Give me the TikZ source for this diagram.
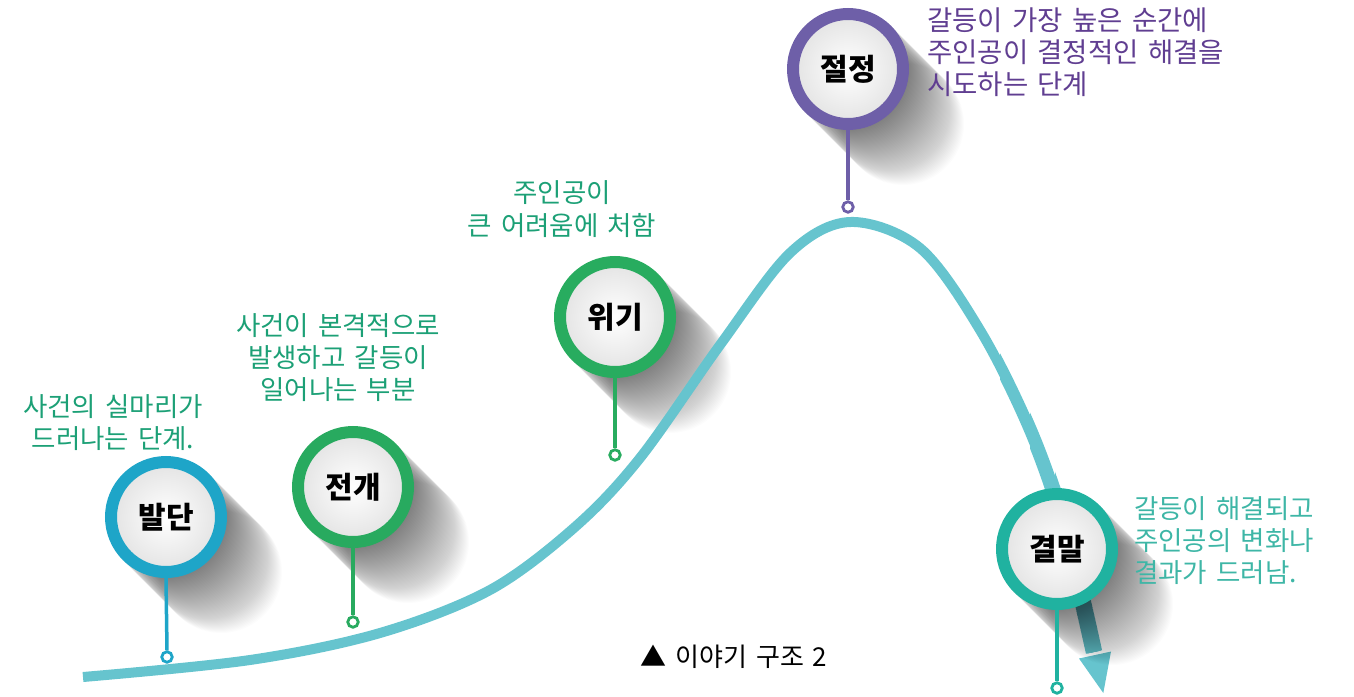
\documentclass[tikz,border=0pt]{standalone}
\usepackage{fontspec}
\newfontfamily\kr{Noto Sans CJK KR}[WordSpace=1.5]
\usetikzlibrary{calc}
\definecolor{curvec}{RGB}{102,196,206}
\definecolor{cbal}{RGB}{30,165,200}
\definecolor{cjeon}{RGB}{40,170,95}
\definecolor{cwi}{RGB}{40,172,95}
\definecolor{cjeol}{RGB}{110,95,168}
\definecolor{cgyeol}{RGB}{32,178,160}
\definecolor{tgreen}{RGB}{28,160,118}
\definecolor{tpurple}{RGB}{96,62,145}
\definecolor{tteal}{RGB}{62,182,166}
\tikzset{
  curve/.style={line width=#1, draw=curvec},
  stage/.style={circle, draw=#1, line width=12pt, minimum size=110pt, inner sep=0pt,
    inner color=white, outer color=gray!22, text=black,
    font=\kr\bfseries\fontsize{30}{32}\selectfont},
  pin/.style={circle, draw=#1, fill=white, line width=2.8pt, minimum size=10.5pt, inner sep=0pt},
  stem/.style={draw=#1, line width=3.5pt},
  desc/.style={font=\kr\fontsize{26.5}{32}\selectfont, inner sep=0pt, text=#1},
}
\newcommand{\curvepath}{plot[smooth, tension=0.55] coordinates {(83,677) (250,660) (380,633) (490,590) (575,527) (640,458) (720,345) (790,253) (850,222) (920,248) (980,330) (1030,430) (1065,530) (1094,652)}}
\newcommand{\castshadow}[2]{%
  \foreach \k in {1,...,55} {\fill[black, opacity=0.011] (#1+\k, #2+\k) circle (61pt);}}
\begin{document}
\begin{tikzpicture}[x=1pt, y=-1pt]
\useasboundingbox (0,0) rectangle (1354,696);
% shadows behind the curve
\castshadow{166}{517}
\castshadow{353}{487}
\castshadow{615}{317}
\castshadow{848}{69}
% story curve
\draw[curve=10pt, line cap=butt] \curvepath;
\begin{scope}
  \clip (1000,300) rectangle (1200,700);
  \draw[curve=12pt] \curvepath;
\end{scope}
\begin{scope}
  \clip (1030,300) rectangle (1200,700);
  \draw[curve=14pt] \curvepath;
\end{scope}
\begin{scope}
  \clip (1055,300) rectangle (1200,700);
  \draw[curve=16.5pt] \curvepath;
\end{scope}
\fill[curvec] (1079,658.5) -- (1111,651.5) -- (1103.3,693) -- cycle;
% shadow over the arrow shaft
\castshadow{1057}{549}
% pins
\node[pin=cbal] (p1) at (167,657) {};
\node[pin=cjeon] (p2) at (353,622) {};
\node[pin=cwi] (p3) at (615,455) {};
\node[pin=cjeol] (p4) at (848,207) {};
\node[pin=cgyeol] (p5) at (1057,688) {};
% stages
\node[stage=cbal] (s1) at (166,517) {발단};
\node[stage=cjeon] (s2) at (353,487) {전개};
\node[stage=cwi] (s3) at (615,317) {위기};
\node[stage=cjeol] (s4) at (848,69) {절정};
\node[stage=cgyeol] (s5) at (1057,549) {결말};
% stems
\draw[stem=cbal] (s1.south) -- (p1.north);
\draw[stem=cjeon] (s2.south) -- (p2.north);
\draw[stem=cwi] (s3.south) -- (p3.north);
\draw[stem=cjeol] (s4.south) -- (p4.north);
\draw[stem=cgyeol] (s5.south) -- (p5.north);
% descriptions
\node[desc=tgreen, align=center] (d1) at (113,423) {사건의 실마리가\\드러나는 단계.};
\node[desc=tgreen, align=center] (d2) at (338,358) {사건이 본격적으로\\발생하고 갈등이\\일어나는 부분};
\node[desc=tgreen, align=center, font=\kr\fontsize{26.5}{33}\selectfont] (d3) at (562,209) {주인공이\\큰 어려움에 처함};
\node[desc=tpurple, align=left, anchor=west, font=\kr\fontsize{27.5}{32}\selectfont] (d4) at (927,52) {갈등이 가장 높은 순간에\\주인공이 결정적인 해결을\\시도하는 단계};
\node[desc=tteal, align=left, anchor=west] (d5) at (1134,541) {갈등이 해결되고\\주인공의 변화나\\결과가 드러남.};
% caption
\node[font=\kr\fontsize{26}{30}\selectfont, inner sep=0pt] (cap) at (734,657) {▲ 이야기 구조 2};
\end{tikzpicture}
\end{document}
